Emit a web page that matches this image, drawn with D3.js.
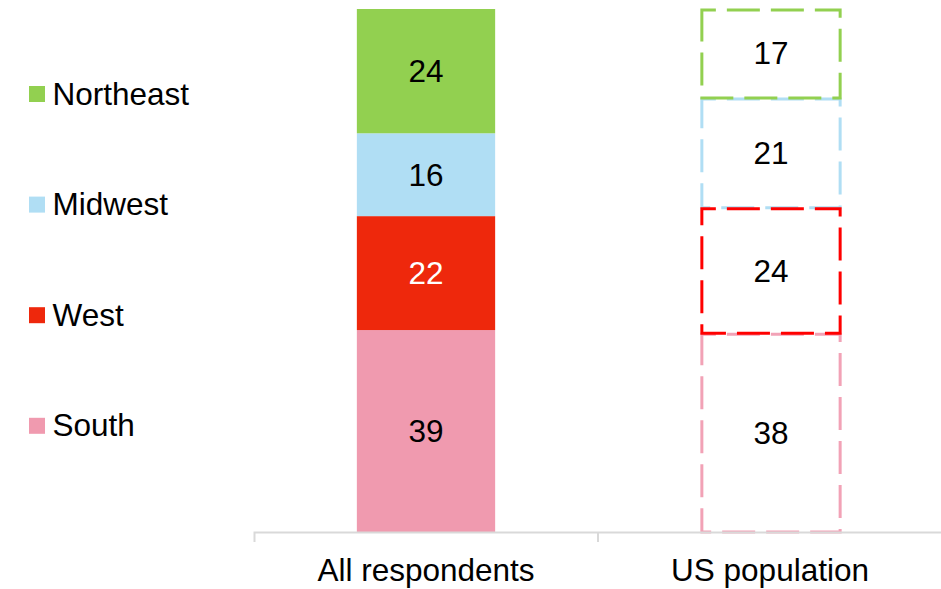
<!DOCTYPE html>
<html>
<head>
<meta charset="utf-8">
<script src="https://cdn.jsdelivr.net/npm/d3@7"></script>
<style>
  html, body { margin: 0; padding: 0; background: #fff; }
  svg { display: block; font-family: "Liberation Sans", Arial, sans-serif; }
</style>
</head>
<body>
<svg id="chart" width="941" height="589"></svg>
<script>
// Region shares (%) for survey respondents vs. the US population
const groups = ["All respondents", "US population"];
const regions = ["South", "West", "Midwest", "Northeast"];
const respondents = [39, 22, 16, 24];
const population = [38, 24, 21, 17];
const legendOrder = ["Northeast", "Midwest", "West", "South"];

const fillColor = { South: "#F09AAF", West: "#EE280C", Midwest: "#B0DEF4", Northeast: "#92D050" };
const lineColor = { South: "#F2A2B6", West: "#FF0000", Midwest: "#B0DEF4", Northeast: "#92D050" };
const labelColor = { South: "#000", West: "#fff", Midwest: "#000", Northeast: "#000" };

const svg = d3.select("#chart");
const fontSize = 31.5;

const table = groups.map((g, i) => {
  const vals = i === 0 ? respondents : population;
  const row = { group: g };
  regions.forEach((r, j) => row[r] = vals[j]);
  return row;
});

// 100% stacked columns
const stack = d3.stack().keys(regions).offset(d3.stackOffsetExpand);
const series = stack(table);

const x = d3.scaleBand().domain(groups).range([254, 942]).paddingInner(0.598).paddingOuter(0.299);
const y = d3.scaleLinear().domain([0, 1]).range([532, 9]);

// Filled column for respondents
const solid = svg.append("g");
series.forEach(s => {
  const d = s[0];
  solid.append("rect")
    .attr("x", x(d.data.group))
    .attr("y", y(d[1]))
    .attr("width", x.bandwidth())
    .attr("height", y(d[0]) - y(d[1]))
    .attr("fill", fillColor[s.key]);
});

// Outlined (dashed) column for population
const outline = svg.append("g");
const drawOrder = ["South", "Midwest", "West", "Northeast"];
drawOrder.forEach(key => {
  const s = series.find(v => v.key === key);
  const d = s[1];
  outline.append("rect")
    .attr("x", x(d.data.group) + 1)
    .attr("y", y(d[1]) + 1)
    .attr("width", x.bandwidth())
    .attr("height", y(d[0]) - y(d[1]) - 1)
    .attr("fill", "none")
    .attr("stroke", lineColor[key])
    .attr("stroke-width", 3)
    .attr("stroke-dasharray", "33,11")
    .attr("stroke-dashoffset", 19);
});

// Value labels
const labels = svg.append("g")
  .attr("font-size", fontSize)
  .attr("text-anchor", "middle");
series.forEach(s => {
  s.forEach((d, i) => {
    labels.append("text")
      .attr("x", x(d.data.group) + x.bandwidth() / 2 + (i === 1 ? 1 : 0))
      .attr("y", (y(d[0]) + y(d[1])) / 2)
      .attr("dy", "0.35em")
      .attr("fill", i === 0 ? labelColor[s.key] : "#000")
      .text(d.data[s.key]);
  });
});

// Category axis
const axis = svg.append("g")
  .attr("transform", `translate(0,${y(0)})`)
  .call(d3.axisBottom(x).tickSizeInner(0).tickSizeOuter(10).tickPadding(26.6));
axis.select(".domain").attr("stroke", "#D9D9D9").attr("stroke-width", 2);
axis.selectAll(".tick text").attr("font-size", fontSize).attr("font-family", "Liberation Sans, Arial, sans-serif").attr("fill", "#000");
// Boundary ticks between categories
groups.slice(1).forEach(g => {
  const bx = x(g) - x.step() * x.paddingInner() / 2;
  axis.append("line")
    .attr("x1", bx).attr("x2", bx)
    .attr("y1", 0).attr("y2", 10)
    .attr("stroke", "#D9D9D9").attr("stroke-width", 2);
});

// Legend
const legend = svg.append("g").attr("font-size", fontSize);
legendOrder.forEach((key, i) => {
  const ly = 86 + i * 110.6;
  legend.append("rect")
    .attr("x", 29).attr("y", ly)
    .attr("width", 16).attr("height", 16)
    .attr("fill", fillColor[key]);
  legend.append("text")
    .attr("x", 52.5).attr("y", ly + 18.5)
    .attr("fill", "#000")
    .text(key);
});
</script>
</body>
</html>
